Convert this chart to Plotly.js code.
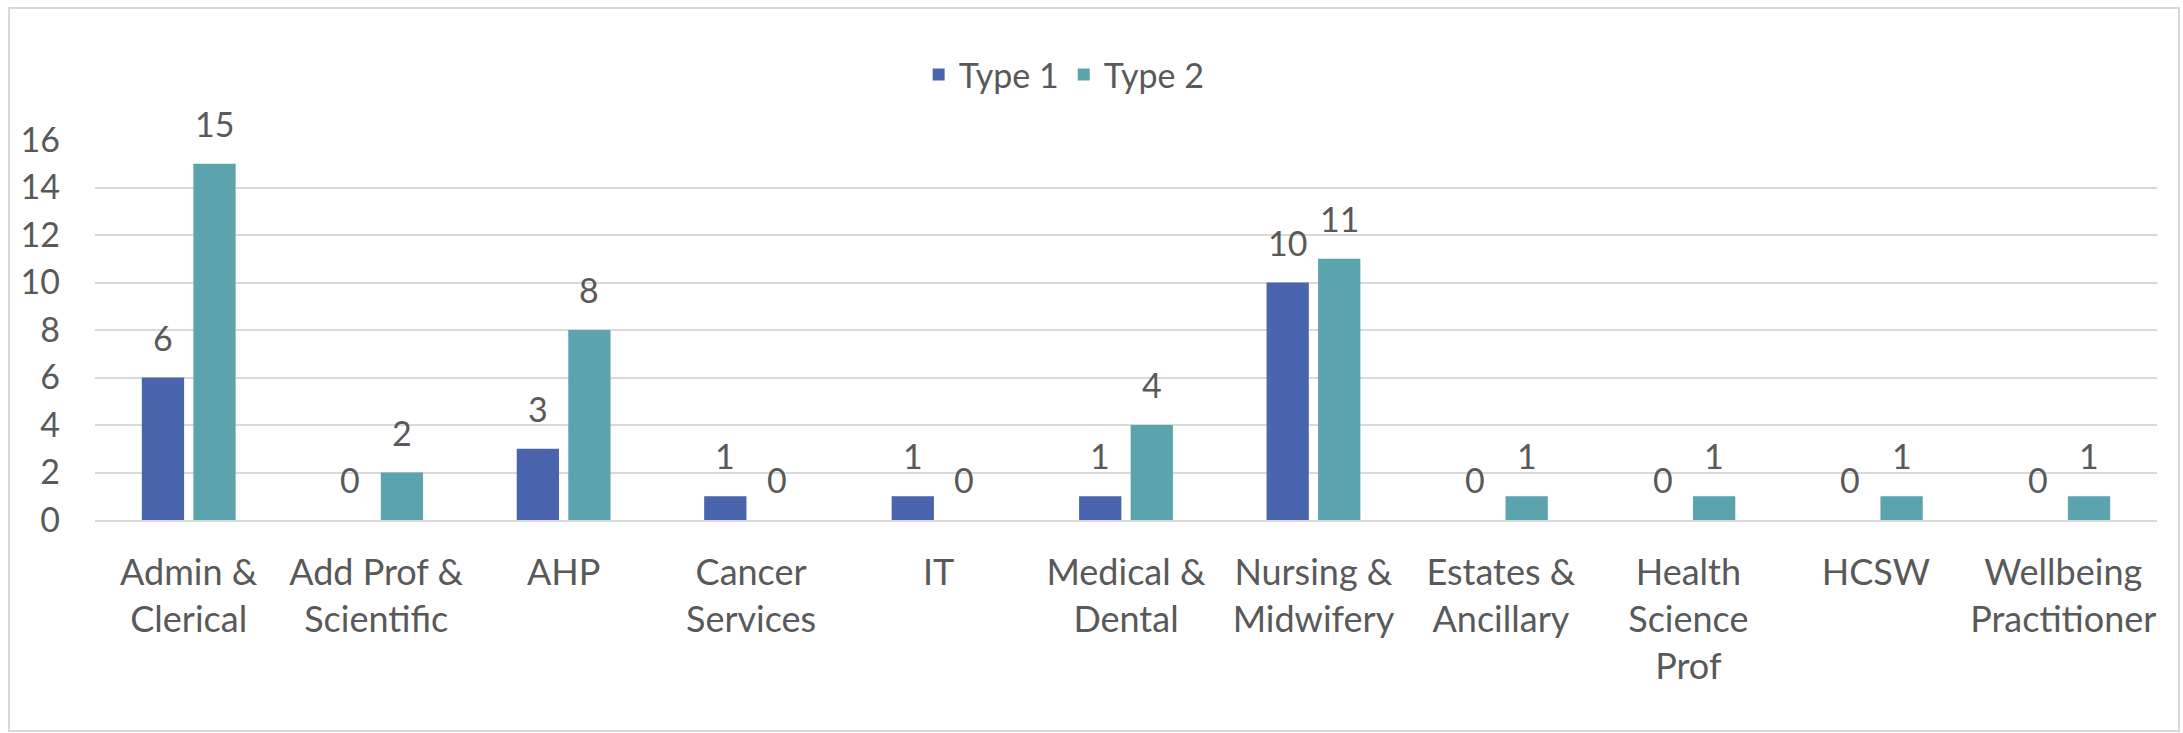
<!DOCTYPE html>
<html>
<head>
<meta charset="utf-8">
<script src="https://cdn.plot.ly/plotly-3.0.1.min.js"></script>
<style>
  html, body { margin: 0; padding: 0; background: #ffffff; }
  #chart { width: 2183px; height: 733px; }
</style>
</head>
<body>
<div id="chart"></div>
<script>
// ---- data ----
const categories = ["Admin & Clerical", "Add Prof & Scientific", "AHP", "Cancer Services", "IT",
  "Medical & Dental", "Nursing & Midwifery", "Estates & Ancillary", "Health Science Prof",
  "HCSW", "Wellbeing Practitioner"];
const tickLabels = ["Admin &<br>Clerical", "Add Prof &<br>Scientific", "AHP", "Cancer<br>Services", "IT",
  "Medical &<br>Dental", "Nursing &<br>Midwifery", "Estates &<br>Ancillary", "Health<br>Science<br>Prof",
  "HCSW", "Wellbeing<br>Practitioner"];
const type1 = [6, 0, 3, 1, 1, 1, 10, 0, 0, 0, 0];
const type2 = [15, 2, 8, 0, 0, 4, 11, 1, 1, 1, 1];
const seriesNames = ["Type 1", "Type 2"];
const yTicks = [0, 2, 4, 6, 8, 10, 12, 14, 16];

// ---- style ----
const W = 2183, H = 733;
const M = {l: 95, r: 26, t: 140, b: 213};
const textColor = "#595959";
const gridColor = "#d9d9d9";
const colors = ["#4a65ad", "#5ba3ad"];
const font = "Lato, 'Open Sans', sans-serif";
const bargap = 0.45;
const half = (1 - bargap) / 4; // half a bar slot in category units

const traces = [type1, type2].map((vals, k) => ({
  type: "bar",
  name: seriesNames[k],
  x: categories,
  y: vals,
  marker: {color: colors[k]},
  hoverinfo: "x+y+name"
}));

// data labels above bars, placed through data coordinates
const annotations = [];
[type1, type2].forEach((vals, k) => {
  vals.forEach((v, i) => {
    annotations.push({
      x: i + (k === 0 ? -half : half),
      y: v,
      xref: "x", yref: "y",
      text: String(v),
      showarrow: false,
      yanchor: "bottom",
      yshift: 18,
      font: {family: font, size: 34, color: textColor}
    });
  });
});

const pw = W - M.l - M.r, ph = H - M.t - M.b;
const shapes = [{
  type: "rect", xref: "paper", yref: "paper",
  x0: (9 - M.l) / pw, x1: (2179 - M.l) / pw,
  y0: (H - M.b - 731) / ph, y1: (H - M.b - 8) / ph,
  line: {color: gridColor, width: 2}, fillcolor: "rgba(0,0,0,0)", layer: "below"
}];

const layout = {
  width: W, height: H,
  margin: M,
  paper_bgcolor: "#ffffff",
  plot_bgcolor: "#ffffff",
  font: {family: font, color: textColor, size: 34},
  barmode: "group",
  bargap: bargap,
  bargroupgap: 0.18,
  showlegend: true,
  legend: {
    orientation: "h",
    x: 0.47, xanchor: "center",
    y: 1 + (140 - 75) / ph, yanchor: "middle",
    font: {family: font, size: 34, color: textColor},
    itemwidth: 30,
    traceorder: "normal"
  },
  xaxis: {
    type: "category",
    tickvals: categories,
    ticktext: tickLabels,
    tickfont: {family: font, size: 36, color: textColor},
    showgrid: false,
    showline: true,
    linecolor: gridColor,
    linewidth: 2,
    ticks: "",
    ticklabelstandoff: 20,
    fixedrange: true
  },
  yaxis: {
    range: [0, 16],
    tickvals: yTicks,
    ticktext: yTicks.map(String),
    tickfont: {family: font, size: 34, color: textColor},
    showgrid: true,
    gridcolor: gridColor,
    gridwidth: 2,
    zeroline: false,
    showline: false,
    ticks: "",
    ticklabelstandoff: 34,
    fixedrange: true
  },
  annotations: annotations,
  shapes: shapes
};

Plotly.newPlot("chart", traces, layout, {displayModeBar: false, staticPlot: true});
</script>
</body>
</html>
